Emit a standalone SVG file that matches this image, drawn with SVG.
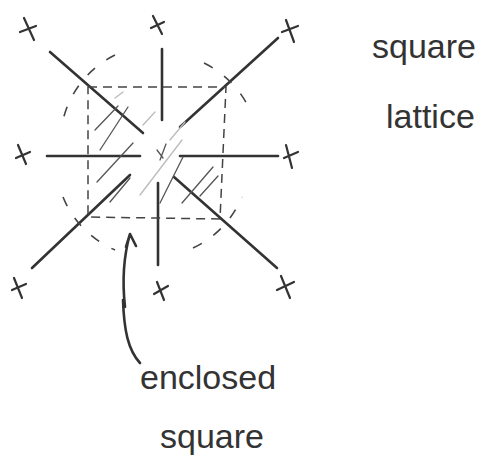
<svg xmlns="http://www.w3.org/2000/svg" width="487" height="461" viewBox="0 0 487 461">
<style>
.ink{stroke:#333;stroke-width:2.6;fill:none;stroke-linecap:round;stroke-linejoin:round}
.dash{stroke:#444;stroke-width:1.5;fill:none;stroke-dasharray:9 6}
.arc{stroke:#444;stroke-width:1.6;fill:none;stroke-dasharray:10 14}
.hatch{stroke:#555;stroke-width:1.3;fill:none;stroke-linecap:round}
.faint{stroke:#bbb;stroke-width:1.3;fill:none;stroke-linecap:round}
.x{stroke:#333;stroke-width:2.2;fill:none;stroke-linecap:round}
.t{font-family:"Liberation Sans",Arial,sans-serif;fill:#333;font-size:34px}
</style>
<rect width="487" height="461" fill="#fff"/>
<g id="points">
  <g id="p-tl" class="x"><path d="M24 18 L34 40 M20 32 L36 26"/></g>
  <g id="p-tc" class="x"><path d="M153 16 L162 34 M151 28 L164 22"/></g>
  <g id="p-tr" class="x"><path d="M286 20 L294 42 M282 32 L298 26"/></g>
  <g id="p-ml" class="x"><path d="M18 145 L26 164 M16 158 L30 152"/></g>
  <g id="p-mr" class="x"><path d="M286 145 L292 168 M284 158 L298 152"/></g>
  <g id="p-bl" class="x"><path d="M14 278 L22 298 M12 290 L26 284"/></g>
  <g id="p-bc" class="x"><path d="M157 282 L164 300 M154 294 L168 286"/></g>
  <g id="p-br" class="x"><path d="M281 276 L290 298 M277 290 L294 282"/></g>
</g>
<g id="connectors">
  <path class="ink" d="M50 52 L143 133"/>
  <path class="ink" d="M174 177 L277 268"/>
  <path class="ink" d="M278 38 L180 127"/>
  <path class="ink" d="M130 175 L32 268"/>
  <path class="ink" d="M162 49 L162 120"/>
  <path class="ink" d="M158 183 L158 265"/>
  <path class="ink" d="M47 156 L140 156"/>
  <path class="ink" d="M180 156 L278 156"/>
</g>
<g id="enclosed-square">
  <path class="dash" d="M88 87 L226 87 L220 219 L88 217 Z"/>
  <path class="arc" d="M115 55 A98 98 0 0 0 63 120"/>
  <path class="arc" d="M204 63 A98 98 0 0 1 250 110"/>
  <path class="arc" d="M63 197 A98 98 0 0 0 115 250"/>
  <path class="arc" d="M193 248 A98 98 0 0 0 242 197"/>
  <path class="hatch" d="M95 130 L118 106 M100 150 L128 107 M97 182 L133 143 M110 202 L130 178"/>
  <path class="hatch" d="M160 203 L183 157 M182 203 L213 167 M200 196 L218 176 M157 150 L163 158 M166 144 L160 160"/>
  <path class="faint" d="M140 195 L182 140 M143 125 L155 112 M115 98 L123 92 M170 140 L185 122"/>
</g>
<g id="arrow">
  <path class="ink" d="M125 307 C122 280 124 255 130 234 M126 247 L130 234 L136 246"/>
  <path class="ink" d="M123 300 C124 330 128 350 140 363"/>
</g>
<g id="labels">
  <text class="t" x="372" y="58">square</text>
  <text class="t" x="386" y="128">lattice</text>
  <text class="t" x="140" y="389">enclosed</text>
  <text class="t" x="160" y="448">square</text>
</g>
</svg>
